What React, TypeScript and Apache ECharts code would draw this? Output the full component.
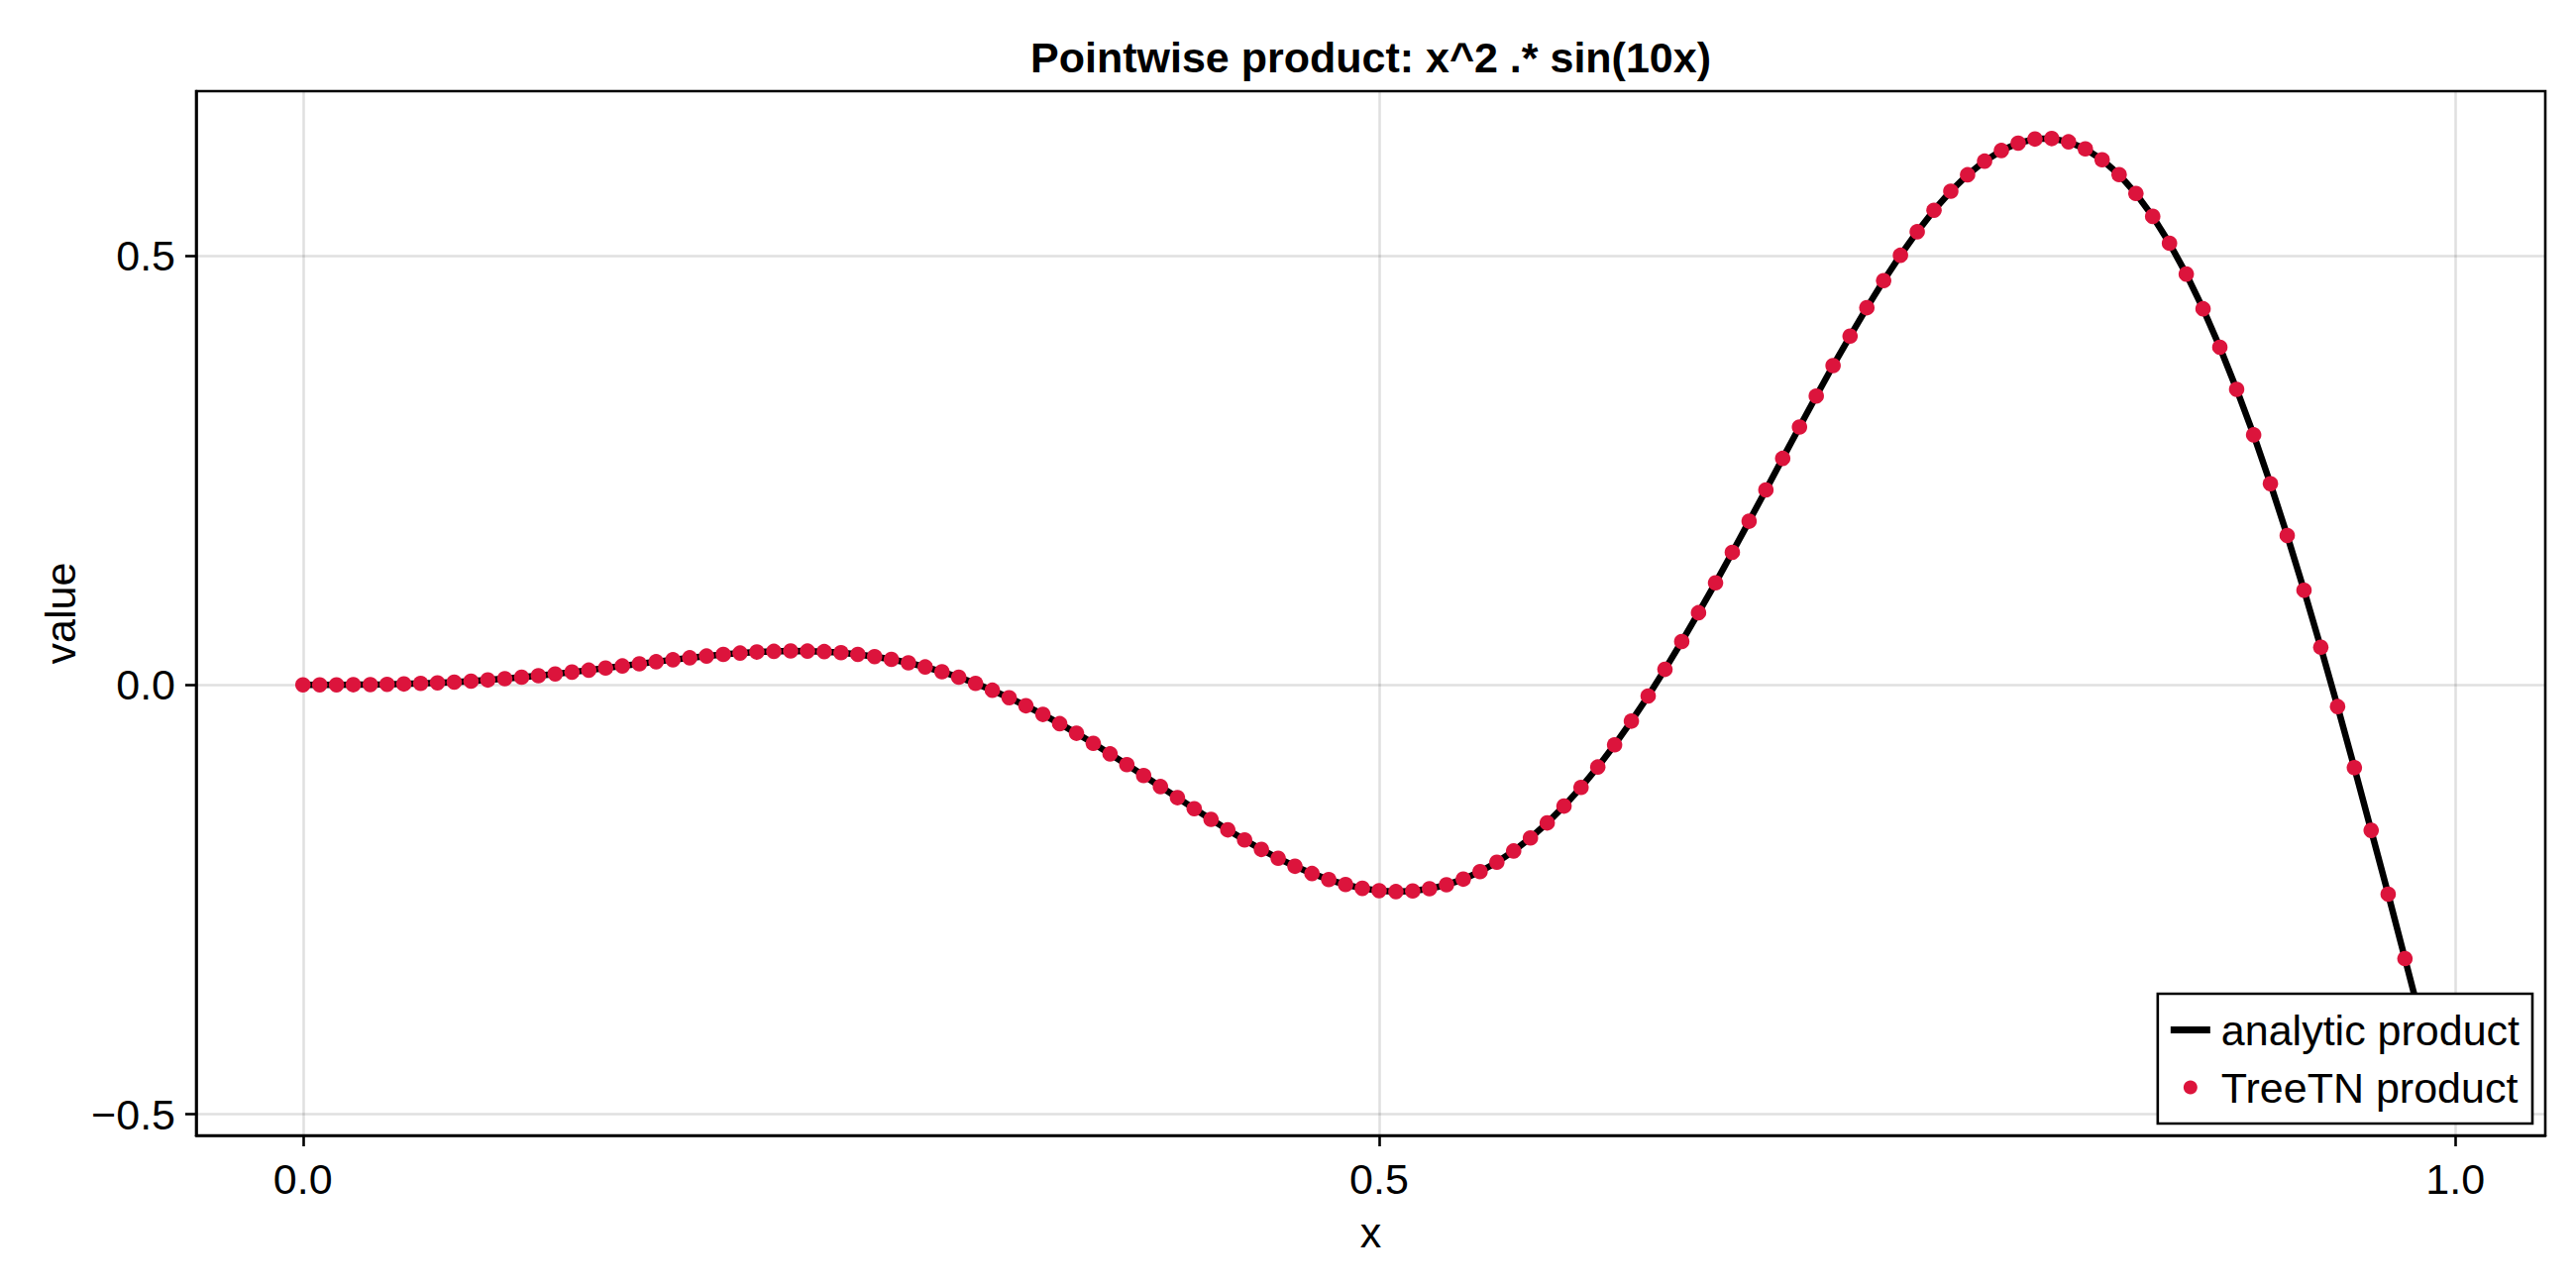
import React, { useEffect, useRef } from "react";
import * as echarts from "echarts";

// Sample positions (x): 128 equally spaced samples on [0, 1)
const xs = [
  0, 0.0078, 0.0156, 0.0234, 0.0313, 0.0391, 0.0469, 0.0547, 0.0625, 0.0703, 0.0781, 0.0859, 0.0938, 0.1016, 0.1094, 0.1172,
  0.125, 0.1328, 0.1406, 0.1484, 0.1563, 0.1641, 0.1719, 0.1797, 0.1875, 0.1953, 0.2031, 0.2109, 0.2188, 0.2266, 0.2344, 0.2422,
  0.25, 0.2578, 0.2656, 0.2734, 0.2813, 0.2891, 0.2969, 0.3047, 0.3125, 0.3203, 0.3281, 0.3359, 0.3438, 0.3516, 0.3594, 0.3672,
  0.375, 0.3828, 0.3906, 0.3984, 0.4063, 0.4141, 0.4219, 0.4297, 0.4375, 0.4453, 0.4531, 0.4609, 0.4688, 0.4766, 0.4844, 0.4922,
  0.5, 0.5078, 0.5156, 0.5234, 0.5313, 0.5391, 0.5469, 0.5547, 0.5625, 0.5703, 0.5781, 0.5859, 0.5938, 0.6016, 0.6094, 0.6172,
  0.625, 0.6328, 0.6406, 0.6484, 0.6563, 0.6641, 0.6719, 0.6797, 0.6875, 0.6953, 0.7031, 0.7109, 0.7188, 0.7266, 0.7344, 0.7422,
  0.75, 0.7578, 0.7656, 0.7734, 0.7813, 0.7891, 0.7969, 0.8047, 0.8125, 0.8203, 0.8281, 0.8359, 0.8438, 0.8516, 0.8594, 0.8672,
  0.875, 0.8828, 0.8906, 0.8984, 0.9063, 0.9141, 0.9219, 0.9297, 0.9375, 0.9453, 0.9531, 0.9609, 0.9688, 0.9766, 0.9844, 0.9922,
];

// Analytic product values at those samples
const analyticProduct = [
  0.0, 0.0, 0.0, 0.0001, 0.0003, 0.0006, 0.001, 0.0016, 0.0023, 0.0032, 0.0043, 0.0056, 0.0071, 0.0088, 0.0106, 0.0127,
  0.0148, 0.0171, 0.0195, 0.022, 0.0244, 0.0269, 0.0292, 0.0315, 0.0335, 0.0354, 0.037, 0.0382, 0.039, 0.0394, 0.0393, 0.0387,
  0.0374, 0.0355, 0.0329, 0.0296, 0.0256, 0.0208, 0.0152, 0.0088, 0.0016, -0.0063, -0.015, -0.0244, -0.0345, -0.0452, -0.0564, -0.0682,
  -0.0804, -0.0929, -0.1056, -0.1185, -0.1314, -0.1442, -0.1567, -0.1689, -0.1806, -0.1917, -0.202, -0.2113, -0.2197, -0.2268, -0.2326, -0.237,
  -0.2397, -0.2408, -0.2401, -0.2375, -0.2329, -0.2263, -0.2175, -0.2066, -0.1935, -0.1783, -0.1608, -0.1412, -0.1195, -0.0957, -0.0699, -0.0423,
  -0.013, 0.018, 0.0504, 0.084, 0.1187, 0.1543, 0.1905, 0.227, 0.2637, 0.3002, 0.3363, 0.3717, 0.406, 0.4391, 0.4706, 0.5002,
  0.5276, 0.5526, 0.5748, 0.5939, 0.6098, 0.6222, 0.6308, 0.6355, 0.6361, 0.6323, 0.6241, 0.6114, 0.5941, 0.5721, 0.5455, 0.5142,
  0.4783, 0.4379, 0.3931, 0.3441, 0.2911, 0.2342, 0.1739, 0.1102, 0.0437, -0.0253, -0.0965, -0.1695, -0.2437, -0.3188, -0.3942, -0.4695,
];

// TreeTN product values (coincide with the analytic curve in the picture)
const treeTNProduct = [
  0.0, 0.0, 0.0, 0.0001, 0.0003, 0.0006, 0.001, 0.0016, 0.0023, 0.0032, 0.0043, 0.0056, 0.0071, 0.0088, 0.0106, 0.0127,
  0.0148, 0.0171, 0.0195, 0.022, 0.0244, 0.0269, 0.0292, 0.0315, 0.0335, 0.0354, 0.037, 0.0382, 0.039, 0.0394, 0.0393, 0.0387,
  0.0374, 0.0355, 0.0329, 0.0296, 0.0256, 0.0208, 0.0152, 0.0088, 0.0016, -0.0063, -0.015, -0.0244, -0.0345, -0.0452, -0.0564, -0.0682,
  -0.0804, -0.0929, -0.1056, -0.1185, -0.1314, -0.1442, -0.1567, -0.1689, -0.1806, -0.1917, -0.202, -0.2113, -0.2197, -0.2268, -0.2326, -0.237,
  -0.2397, -0.2408, -0.2401, -0.2375, -0.2329, -0.2263, -0.2175, -0.2066, -0.1935, -0.1783, -0.1608, -0.1412, -0.1195, -0.0957, -0.0699, -0.0423,
  -0.013, 0.018, 0.0504, 0.084, 0.1187, 0.1543, 0.1905, 0.227, 0.2637, 0.3002, 0.3363, 0.3717, 0.406, 0.4391, 0.4706, 0.5002,
  0.5276, 0.5526, 0.5748, 0.5939, 0.6098, 0.6222, 0.6308, 0.6355, 0.6361, 0.6323, 0.6241, 0.6114, 0.5941, 0.5721, 0.5455, 0.5142,
  0.4783, 0.4379, 0.3931, 0.3441, 0.2911, 0.2342, 0.1739, 0.1102, 0.0437, -0.0253, -0.0965, -0.1695, -0.2437, -0.3188, -0.3942, -0.4695,
];

const xTicks = [0, 0.5, 1.0];
const yTicks = [-0.5, 0, 0.5];
const xLimits = [-0.0496, 1.0418];
const yLimits = [-0.5247, 0.6913];

const FONT = "'Liberation Sans', Arial, Helvetica, sans-serif";
const RED = "#dc143c";

export default function App() {
  const ref = useRef<HTMLDivElement>(null);

  useEffect(() => {
    const chart = echarts.init(ref.current!, null, { renderer: "svg" });
    const fmt = (v: number) => (v < 0 ? "\u2212" : "") + Math.abs(v).toFixed(1);
    const labelStyle = { fontFamily: FONT, fontSize: 43, color: "#000" };
    const gridLine = { show: true, lineStyle: { color: "rgba(0,0,0,0.12)", width: 2.6 } };
    const axisLine = { show: true, onZero: false, lineStyle: { color: "#000", width: 2.6 } };
    const tick = (vals: number[]) => ({
      show: true,
      inside: false,
      length: 11,
      lineStyle: { color: "#000", width: 2.6 },
      customValues: vals,
    });

    chart.setOption({
      animation: false,
      backgroundColor: "#fff",
      title: {
        text: "Pointwise product: x^2 .* sin(10x)",
        left: 1383.5,
        top: 36,
        padding: 0,
        textAlign: "center",
        textStyle: { fontFamily: FONT, fontSize: 43, fontWeight: "bold", color: "#000" },
      },
      grid: {
        left: 198,
        right: 31,
        top: 92,
        bottom: 154,
        show: true,
        borderColor: "#000",
        borderWidth: 2.6,
        backgroundColor: "transparent",
        containLabel: false,
        outerBoundsMode: "none",
      },
      xAxis: {
        type: "value",
        position: "bottom",
        min: xLimits[0],
        max: xLimits[1],
        minInterval: 0.5,
        maxInterval: 0.5,
        name: "x",
        nameLocation: "middle",
        nameGap: 76,
        nameMoveOverlap: false,
        nameTextStyle: labelStyle,
        axisLine,
        axisTick: tick(xTicks),
        axisLabel: { ...labelStyle, margin: 22, formatter: fmt, customValues: xTicks },
        splitLine: gridLine,
      },
      yAxis: {
        type: "value",
        position: "left",
        min: yLimits[0],
        max: yLimits[1],
        minInterval: 0.5,
        maxInterval: 0.5,
        name: "value",
        nameLocation: "middle",
        nameRotate: 90,
        nameGap: 116,
        nameMoveOverlap: false,
        nameTextStyle: labelStyle,
        axisLine,
        axisTick: tick(yTicks),
        axisLabel: { ...labelStyle, margin: 21, formatter: fmt, customValues: yTicks },
        splitLine: gridLine,
      },
      legend: {
        orient: "vertical",
        right: 44,
        bottom: 166,
        padding: [15, 13, 15, 13],
        itemGap: 15,
        itemWidth: 40,
        itemHeight: 14,
        backgroundColor: "#fff",
        borderColor: "#000",
        borderWidth: 2.6,
        borderRadius: 0,
        selectedMode: false,
        textStyle: { ...labelStyle, padding: [0, 0, 0, 6] },
        data: [
          { name: "analytic product", icon: "path://M0 0H40V7H0Z", itemStyle: { color: "#000", borderWidth: 0, opacity: 1 } },
          { name: "TreeTN product", icon: "circle", itemStyle: { color: RED, borderWidth: 0, opacity: 1 } },
        ],
      },
      series: [
        {
          name: "analytic product",
          type: "line",
          data: xs.map((x, i) => [x, analyticProduct[i]]),
          showSymbol: false,
          symbol: "none",
          lineStyle: { color: "#000", width: 6.5, opacity: 1 },
          itemStyle: { color: "#000" },
          z: 2,
          silent: true,
        },
        {
          name: "TreeTN product",
          type: "scatter",
          data: xs.map((x, i) => [x, treeTNProduct[i]]),
          symbol: "circle",
          symbolSize: 15.6,
          itemStyle: { color: RED, opacity: 1 },
          z: 3,
          silent: true,
        },
      ],
    });

    return () => chart.dispose();
  }, []);

  return (
    <div
      ref={ref}
      style={{ position: "fixed", left: 0, top: 0, width: 2600, height: 1300, background: "#fff" }}
    />
  );
}
